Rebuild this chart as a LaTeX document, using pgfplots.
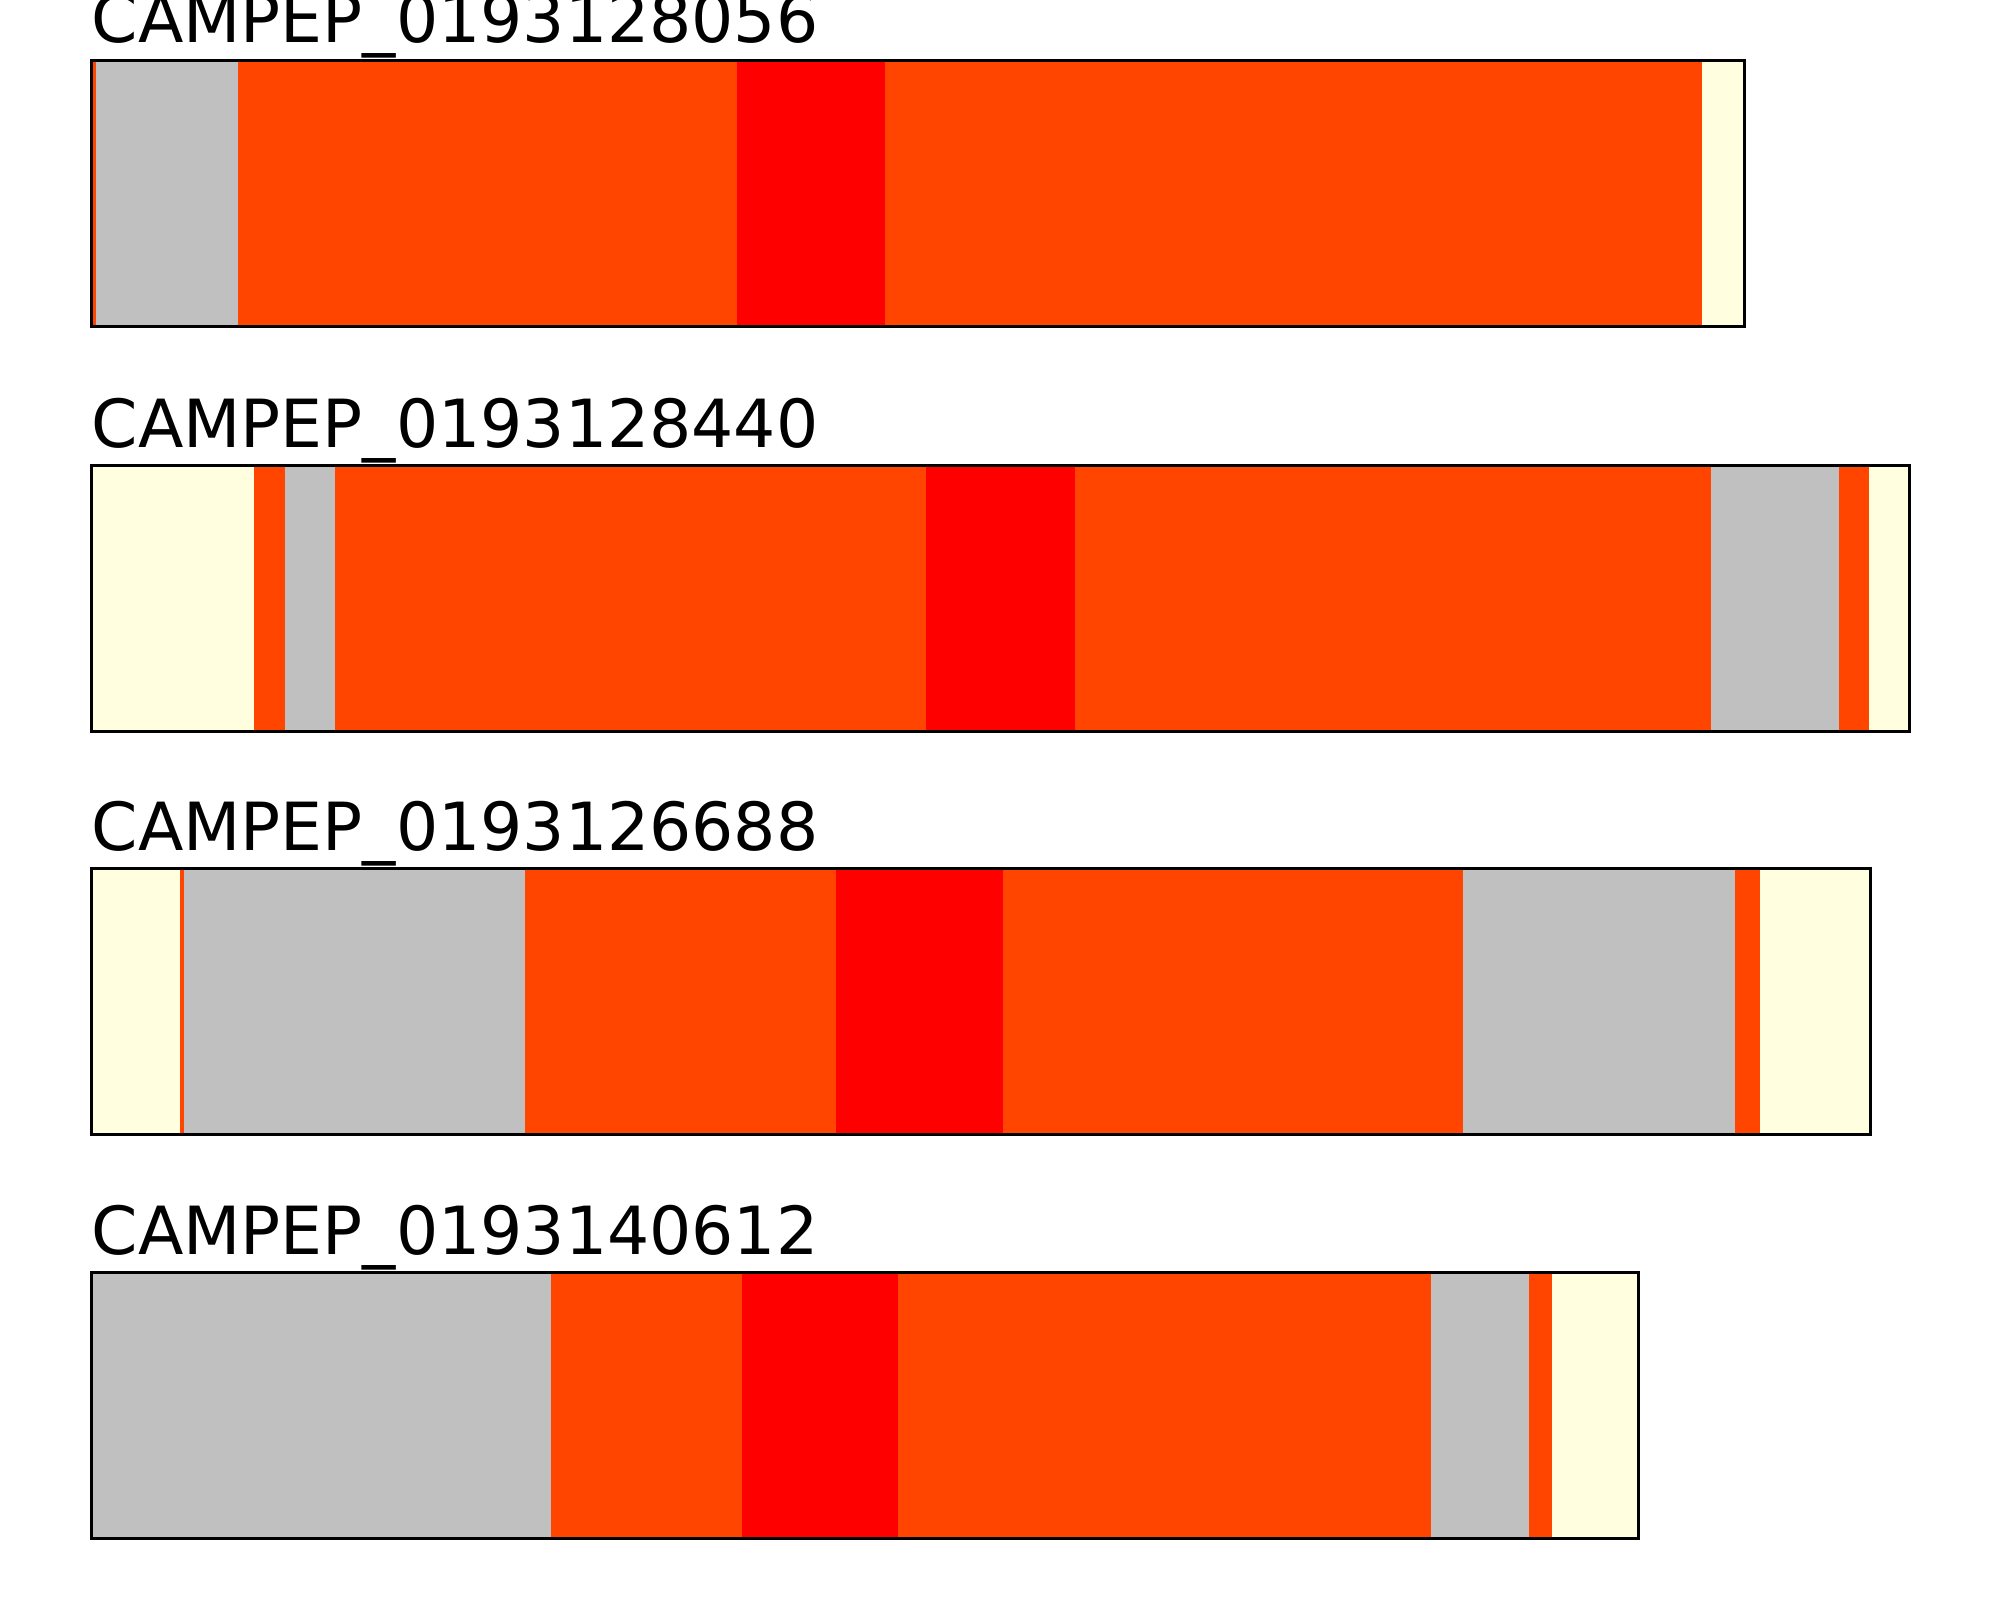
\documentclass[border=0pt]{standalone}
\usepackage{pgfplots}
\pgfplotsset{compat=1.18}
\usepackage{fontspec}
\setmainfont{DejaVu Sans}
\definecolor{cOR}{HTML}{FF4500}
\definecolor{cRD}{HTML}{FF0000}
\definecolor{cGY}{HTML}{C0C0C0}
\definecolor{cLY}{HTML}{FFFFE0}
\newcommand{\seg}[3]{\addplot[fill=#1, draw=none, forget plot] coordinates {(#2,1) (#3,1)} \closedcycle;}
\pgfplotsset{
  trackstyle/.style={
    scale only axis,
    height=66.5pt,
    ymin=0, ymax=1,
    xmin=0,
    xtick=\empty, ytick=\empty,
    axis on top,
    axis line style={line width=0.75pt, black},
    anchor=south west,
    title style={at={(0,1)}, anchor=base west, yshift=-1.5pt, inner sep=0pt,
      font=\fontsize{16.6}{19}\selectfont},
  }
}
\begin{document}
\begin{tikzpicture}
\path[use as bounding box] (0,0) rectangle (500pt,400pt);
% Track 1
\begin{axis}[trackstyle, at={(22.75pt,318.25pt)}, width=413.25pt, xmax=1653,
  title={CAMPEP\_0193128056}]
\seg{cOR}{0}{5}
\seg{cGY}{5}{147}
\seg{cOR}{147}{646}
\seg{cRD}{646}{794}
\seg{cOR}{794}{1611}
\seg{cLY}{1611}{1653}
\end{axis}
% Track 2
\begin{axis}[trackstyle, at={(22.75pt,217.25pt)}, width=454.5pt, xmax=1818,
  title={CAMPEP\_0193128440}]
\seg{cLY}{0}{163}
\seg{cOR}{163}{194}
\seg{cGY}{194}{244}
\seg{cOR}{244}{835}
\seg{cRD}{835}{984}
\seg{cOR}{984}{1620}
\seg{cGY}{1620}{1748}
\seg{cOR}{1748}{1778}
\seg{cLY}{1778}{1818}
\end{axis}
% Track 3
\begin{axis}[trackstyle, at={(22.75pt,116.5pt)}, width=444.75pt, xmax=1779,
  title={CAMPEP\_0193126688}]
\seg{cLY}{0}{89}
\seg{cOR}{89}{93}
\seg{cGY}{93}{434}
\seg{cOR}{434}{745}
\seg{cRD}{745}{912}
\seg{cOR}{912}{1372}
\seg{cGY}{1372}{1644}
\seg{cOR}{1644}{1669}
\seg{cLY}{1669}{1779}
\end{axis}
% Track 4
\begin{axis}[trackstyle, at={(22.75pt,15.5pt)}, width=386.75pt, xmax=1547,
  title={CAMPEP\_0193140612}]
\seg{cOR}{0}{2}
\seg{cGY}{2}{460}
\seg{cOR}{460}{651}
\seg{cRD}{651}{807}
\seg{cOR}{807}{1340}
\seg{cGY}{1340}{1438}
\seg{cOR}{1438}{1461}
\seg{cLY}{1461}{1547}
\end{axis}
\end{tikzpicture}
\end{document}
